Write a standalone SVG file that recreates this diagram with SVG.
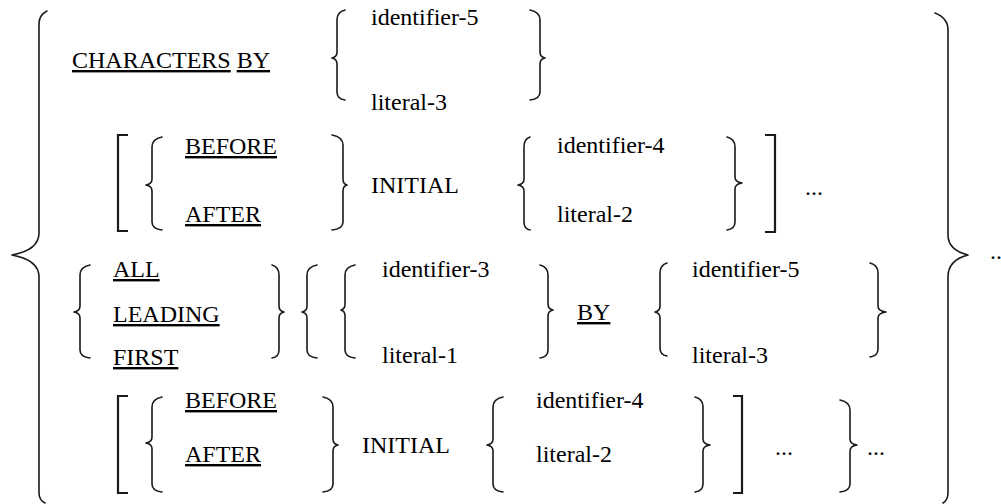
<svg xmlns="http://www.w3.org/2000/svg" width="1001" height="504" viewBox="0 0 1001 504">
<style>
text, tspan { font-family: 'Liberation Serif', 'Times New Roman', serif !important; font-size: 24px !important; }
</style>
<rect width="1001" height="504" fill="#fff"/>
<g id="outer-braces" fill="none" stroke="#1a1a1a" stroke-width="1.6" stroke-linecap="round" stroke-linejoin="round">
<path d="M47,11 Q39,15 39,24 L39,233 Q39,250 12,255 Q39,260 39,277 L39,493 Q39,500 45,503"/>
<path d="M935,13 Q948,18 948,30 L948,235 Q948,250 968,255 Q948,260 948,277 L948,493 Q948,500 943,503"/>
</g>
<text id="outer-repeat" style="font-family:Liberation Serif;font-size:24px" font-family="Liberation Serif" font-size="24" x="990" y="259">..</text>
<g id="row1">
<text style="font-family:Liberation Serif;font-size:24px" font-family="Liberation Serif" font-size="24" x="72" y="68"><tspan text-decoration="underline">CHARACTERS</tspan> <tspan text-decoration="underline">BY</tspan></text>
<text style="font-family:Liberation Serif;font-size:24px" font-family="Liberation Serif" font-size="24" x="371" y="25">identifier-5</text>
<text style="font-family:Liberation Serif;font-size:24px" font-family="Liberation Serif" font-size="24" x="371" y="110">literal-3</text>
<g fill="none" stroke="#1a1a1a" stroke-width="1.6" stroke-linecap="round" stroke-linejoin="round">
<path d="M345,10 Q337,12 337,20 L337,52 Q337,57 332,58 Q337,59 337,64 L337,92 Q337,99 345,100"/>
<path d="M530,10 Q540,12 540,20 L540,52 Q540,57 545,58 Q540,59 540,64 L540,92 Q540,99 530,100"/>
</g>
</g>
<g id="row2">
<text style="font-family:Liberation Serif;font-size:24px" font-family="Liberation Serif" font-size="24" text-decoration="underline" x="185" y="154">BEFORE</text>
<text style="font-family:Liberation Serif;font-size:24px" font-family="Liberation Serif" font-size="24" text-decoration="underline" x="185" y="222">AFTER</text>
<text style="font-family:Liberation Serif;font-size:24px" font-family="Liberation Serif" font-size="24" x="371" y="193">INITIAL</text>
<text style="font-family:Liberation Serif;font-size:24px" font-family="Liberation Serif" font-size="24" x="557" y="153">identifier-4</text>
<text style="font-family:Liberation Serif;font-size:24px" font-family="Liberation Serif" font-size="24" x="557" y="222">literal-2</text>
<text style="font-family:Liberation Serif;font-size:24px" font-family="Liberation Serif" font-size="24" x="805" y="195">...</text>
<g fill="none" stroke="#1a1a1a" stroke-width="2.2">
<path d="M128,135 L118,135 L118,231 L128,231"/>
<path d="M765,135 L775,135 L775,232 L765,232"/>
</g>
<g fill="none" stroke="#1a1a1a" stroke-width="1.6" stroke-linecap="round" stroke-linejoin="round">
<path d="M162,137 Q152,139 152,147 L152,179 Q152,184 146,185 Q152,186 152,191 L152,222 Q152,229 162,230"/>
<path d="M332,135 Q343,137 343,145 L343,179 Q343,184 347,185 Q343,186 343,191 L343,222 Q343,229 332,230"/>
<path d="M530,137 Q524,139 524,147 L524,179 Q524,184 518,185 Q524,186 524,191 L524,222 Q524,229 530,230"/>
<path d="M727,137 Q735,139 735,147 L735,177 Q735,182 742,183 Q735,184 735,189 L735,222 Q735,229 727,230"/>
</g>
</g>
<g id="row3">
<text style="font-family:Liberation Serif;font-size:24px" font-family="Liberation Serif" font-size="24" text-decoration="underline" x="113" y="277">ALL</text>
<text style="font-family:Liberation Serif;font-size:24px" font-family="Liberation Serif" font-size="24" text-decoration="underline" x="113" y="322">LEADING</text>
<text style="font-family:Liberation Serif;font-size:24px" font-family="Liberation Serif" font-size="24" text-decoration="underline" x="113" y="365">FIRST</text>
<text style="font-family:Liberation Serif;font-size:24px" font-family="Liberation Serif" font-size="24" x="382" y="277">identifier-3</text>
<text style="font-family:Liberation Serif;font-size:24px" font-family="Liberation Serif" font-size="24" x="382" y="363">literal-1</text>
<text style="font-family:Liberation Serif;font-size:24px" font-family="Liberation Serif" font-size="24" text-decoration="underline" x="577" y="320">BY</text>
<text style="font-family:Liberation Serif;font-size:24px" font-family="Liberation Serif" font-size="24" x="692" y="277">identifier-5</text>
<text style="font-family:Liberation Serif;font-size:24px" font-family="Liberation Serif" font-size="24" x="692" y="363">literal-3</text>
<g fill="none" stroke="#1a1a1a" stroke-width="1.6" stroke-linecap="round" stroke-linejoin="round">
<path d="M90,265 Q80,267 80,275 L80,306 Q80,311 74,312 Q80,313 80,318 L80,350 Q80,357 90,358"/>
<path d="M272,265 Q279,267 279,275 L279,306 Q279,311 284,312 Q279,313 279,318 L279,350 Q279,357 272,358"/>
<path d="M317,265 Q307,267 307,275 L307,306 Q307,311 302,312 Q307,313 307,318 L307,350 Q307,357 317,358"/>
<path d="M355,265 Q345,267 345,275 L345,304 Q345,309 341,310 Q345,311 345,316 L345,350 Q345,357 355,358"/>
<path d="M540,265 Q548,267 548,275 L548,304 Q548,309 553,310 Q548,311 548,316 L548,350 Q548,357 540,358"/>
<path d="M667,263 Q660,265 660,273 L660,306 Q660,311 655,312 Q660,313 660,318 L660,348 Q660,355 667,356"/>
<path d="M870,263 Q878,265 878,273 L878,306 Q878,311 886,312 Q878,313 878,318 L878,349 Q878,356 870,357"/>
</g>
</g>
<g id="row4">
<text style="font-family:Liberation Serif;font-size:24px" font-family="Liberation Serif" font-size="24" text-decoration="underline" x="185" y="408">BEFORE</text>
<text style="font-family:Liberation Serif;font-size:24px" font-family="Liberation Serif" font-size="24" text-decoration="underline" x="185" y="462">AFTER</text>
<text style="font-family:Liberation Serif;font-size:24px" font-family="Liberation Serif" font-size="24" x="362" y="453">INITIAL</text>
<text style="font-family:Liberation Serif;font-size:24px" font-family="Liberation Serif" font-size="24" x="536" y="408">identifier-4</text>
<text style="font-family:Liberation Serif;font-size:24px" font-family="Liberation Serif" font-size="24" x="536" y="462">literal-2</text>
<text style="font-family:Liberation Serif;font-size:24px" font-family="Liberation Serif" font-size="24" x="775" y="455">...</text>
<text style="font-family:Liberation Serif;font-size:24px" font-family="Liberation Serif" font-size="24" x="867" y="455">...</text>
<g fill="none" stroke="#1a1a1a" stroke-width="2.2">
<path d="M128,396 L118,396 L118,493 L128,493"/>
<path d="M733,396 L742,396 L742,493 L733,493"/>
</g>
<g fill="none" stroke="#1a1a1a" stroke-width="1.6" stroke-linecap="round" stroke-linejoin="round">
<path d="M162,397 Q152,399 152,407 L152,437 Q152,442 146,443 Q152,444 152,449 L152,484 Q152,491 162,492"/>
<path d="M323,397 Q333,399 333,407 L333,439 Q333,444 338,445 Q333,446 333,451 L333,484 Q333,491 323,492"/>
<path d="M503,397 Q493,399 493,407 L493,439 Q493,444 487,445 Q493,446 493,451 L493,484 Q493,491 503,492"/>
<path d="M695,397 Q703,399 703,407 L703,439 Q703,444 710,445 Q703,446 703,451 L703,484 Q703,491 695,492"/>
<path d="M840,400 Q850,402 850,410 L850,439 Q850,444 857,445 Q850,446 850,451 L850,484 Q850,491 840,492"/>
</g>
</g>
</svg>
